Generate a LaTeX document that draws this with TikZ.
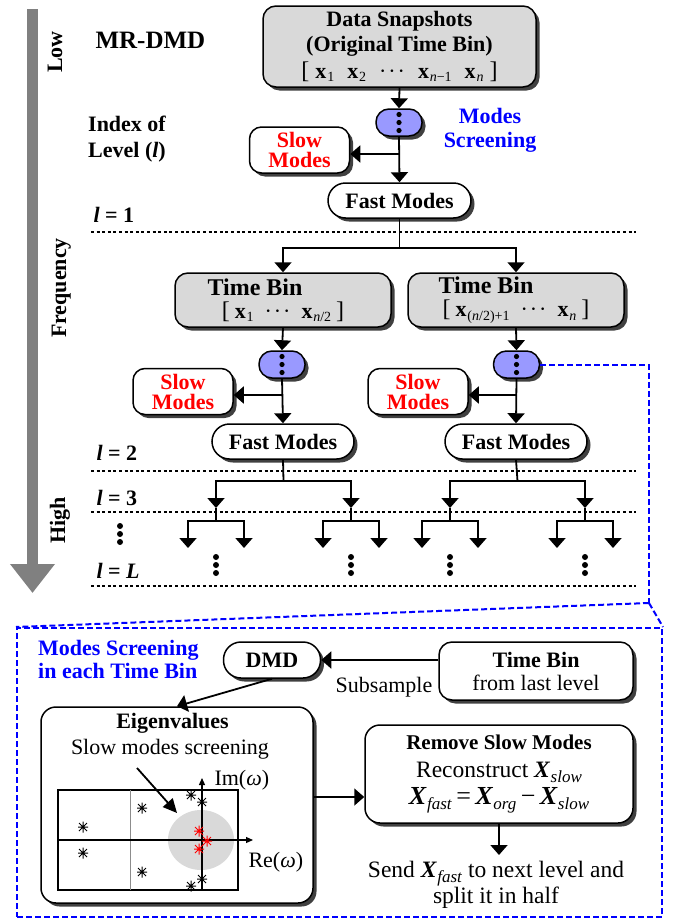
\documentclass[tikz,border=0pt]{standalone}
\usepackage{fontspec}
\setmainfont{Liberation Serif}
\usetikzlibrary{arrows.meta,shadows}
\definecolor{boxgray}{HTML}{D9D9D9}
\definecolor{scrblue}{HTML}{9999FF}
\definecolor{dmdblue}{HTML}{0000FF}
\definecolor{slowred}{HTML}{FF0000}
\definecolor{arrgray}{HTML}{808080}
\newcommand{\fz}[2]{\fontsize{#1pt}{#2pt}\selectfont}
\newcommand{\vx}[1]{\textbf{x}\kern0.8pt\raisebox{-3.5pt}{\fz{14}{14}#1}}
\newcommand{\cds}{·\kern2pt·\kern2pt·}
\newcommand{\BX}[1]{\textbf{\textit{X}}\kern0.3pt\raisebox{-5pt}{\fz{17}{17}\textit{#1}}}
\tikzset{
  box/.style={draw=black, line width=1.5pt, rounded corners=13pt, inner sep=0pt, align=center,
    drop shadow={shadow xshift=3.5pt, shadow yshift=-3.5pt, opacity=1, fill=black!75}},
  graybox/.style={box, fill=boxgray},
  whitebox/.style={box, fill=white},
  pillbox/.style={whitebox, rounded corners=17.5pt},
  scrbox/.style={box, fill=scrblue, minimum width=46pt, minimum height=27pt, rounded corners=13pt},
  slowbox/.style={whitebox, rounded corners=12pt, minimum width=100pt, minimum height=46pt,
    text=slowred, font=\fz{22}{20}\bfseries},
  fastbox/.style={pillbox, minimum width=143pt, minimum height=35pt, font=\fz{22}{26}\bfseries},
  binbox/.style={graybox, minimum width=216pt, minimum height=54pt, font=\fz{22}{23}},
  arr/.style={line width=1.8pt, -{Triangle[width=17pt,length=10pt]}},
  conn/.style={line width=1.8pt},
  levline/.style={line width=1.4pt, dash pattern=on 3pt off 2.6pt},
  bluedash/.style={draw=dmdblue, line width=2pt, dash pattern=on 6pt off 3pt},
  levtext/.style={anchor=base west, font=\fz{22}{26}\bfseries},
  sidetext/.style={rotate=90, anchor=base, font=\fz{22}{26}\bfseries},
  vdot/.style={fill=black},
  eigmark/.pic={\draw[line width=1pt] (-5,0)--(5,0) (0,-5.5)--(0,5.5) (-4,-4)--(4,4) (-4,4)--(4,-4);}
}
\begin{document}
\begin{tikzpicture}[x=1pt,y=-1pt]
\useasboundingbox (0,0) rectangle (673,918);

% frequency arrow
\draw[arrgray, line width=11pt, -{Triangle[width=43pt,length=29pt]}] (32.5,9) -- (32.5,593);
\node[sidetext] (low) at (62,52) {Low};
\node[sidetext] (freq) at (66,288) {Frequency};
\node[sidetext] (high) at (65,520) {High};

\node[anchor=base west, font=\fz{25}{30}\bfseries] (title) at (92,48) {MR-DMD};
\node[anchor=north west, inner sep=0pt, align=left, font=\fz{22}{26}\bfseries] (index) at (88,116) {Index of\\Level (\textit{l})};

% level separators
\foreach \yy in {232,471,512,586} \draw[levline] (91,\yy) -- (636,\yy);
\node[levtext] (l1) at (90,222) {\textit{l} = 1};
\node[levtext] (l2) at (93,460) {\textit{l} = 2};
\node[levtext] (l3) at (93,505) {\textit{l} = 3};
\node[levtext] (lL) at (93,578) {\textit{l} = \textit{L}};
\foreach \d in {-8,0,8} \fill[vdot] (120,534+\d) circle (3);

% level 1
\node[graybox, minimum width=273pt, minimum height=81pt, font=\fz{22}{25}] (data) at (399.5,46.5)
  {\textbf{Data Snapshots}\\\textbf{(Original Time Bin)}\\[2pt]
   {\fz{24}{25}[}\hspace{6pt}\vx{1}\hspace{13pt}\vx{2}\hspace{13pt}\cds\hspace{13pt}\vx{\textit{n}−1}\hspace{13pt}\vx{\textit{n}}\hspace{6pt}{\fz{24}{25}]}};
\node[scrbox] (scr0) at (399,122.5) {};
\foreach \d in {-8,0,8} \fill[vdot] (scr0.center) ++(0,\d) circle (2.6);
\node[anchor=north, inner sep=0pt, align=center, text=dmdblue, font=\fz{22}{24}\bfseries] (mstext) at (490,108) {Modes\\Screening};
\node[slowbox] (slow0) at (299.5,150) {Slow\\Modes};
\node[fastbox] (fast0) at (399.5,200.5) {Fast Modes};
\draw[arr] (data.south) -- (scr0.north);
\draw[arr] (scr0.south) -- (fast0.north);
\coordinate (j0) at (399,154);
\draw[arr] (j0) -- (j0 -| slow0.east);

% level 2
\coordinate (t0) at (399.5,248);
\node[binbox] (binL) at (283,300)
  {\makebox[0pt]{\hspace*{-56pt}\fz{24}{24}\bfseries Time Bin}\\[0pt]
   {\fz{24}{24}[}\hspace{5pt}\vx{1}\hspace{11pt}\cds\hspace{11pt}\vx{\textit{n}/2}\hspace{5pt}{\fz{24}{24}]}};
\node[binbox] (binR) at (516,300)
  {\makebox[0pt]{\hspace*{-60pt}\fz{24}{24}\bfseries Time Bin}\\[0pt]
   {\fz{24}{24}[}\hspace{5pt}\vx{(\textit{n}/2)+1}\hspace{11pt}\cds\hspace{11pt}\vx{\textit{n}}\hspace{5pt}{\fz{24}{24}]}};
\draw[conn] (fast0.south) -- (t0);
\draw[arr] (t0) -| (binL.north);
\draw[arr] (t0) -| (binR.north);

\node[scrbox] (scrL) at (282,364.5) {};
\node[scrbox] (scrR) at (516.5,364.5) {};
\foreach \s in {scrL,scrR} \foreach \d in {-8,0,8} \fill[vdot] (\s.center) ++(0,\d) circle (2.6);
\node[slowbox] (slowL) at (183,391.5) {Slow\\Modes};
\node[slowbox] (slowR) at (418,391.5) {Slow\\Modes};
\node[fastbox, minimum width=142pt] (fastL) at (283,441.5) {Fast Modes};
\node[fastbox, minimum width=142pt] (fastR) at (516,441.5) {Fast Modes};
\draw[arr] (binL.south) -- (scrL.north);
\draw[arr] (binR.south) -- (scrR.north);
\draw[arr] (scrL.south) -- (fastL.north);
\draw[arr] (scrR.south) -- (fastR.north);
\coordinate (jL) at (282,395);
\coordinate (jR) at (516.5,395);
\draw[arr] (jL) -- (jL -| slowL.east);
\draw[arr] (jR) -- (jR -| slowR.east);

% levels 3 .. L
\foreach \n/\cx in {L/283.5, R/517.5} {
  \coordinate (t\n) at (\cx,481);
  \draw[conn] (fast\n.south) -- (t\n);
  \foreach \m/\dx in {a/-67.5, b/67.5} {
    \coordinate (h\n\m) at (\cx+\dx,508);
    \coordinate (s\n\m) at (\cx+\dx,521);
    \draw[arr] (t\n) -| (h\n\m);
    \draw[conn] (h\n\m) -- (s\n\m);
    \foreach \k/\ex in {1/-28, 2/28} {
      \coordinate (e\n\m\k) at (\cx+\dx+\ex,548);
      \draw[arr] (s\n\m) -| (e\n\m\k);
    }
    \foreach \d in {-8,0,8} \fill[vdot] (\cx+\dx,565+\d) circle (3);
  }
}

% link to detail panel
\node[draw=dmdblue, line width=2pt, dash pattern=on 6pt off 3pt, minimum width=645pt, minimum height=289pt, inner sep=0pt] (panel) at (339.5,772.5) {};
\coordinate (bend) at (649,603);
\draw[bluedash] (scrR.east) -| (bend);
\draw[bluedash] (bend) -- (panel.north west);
\draw[bluedash] (bend) -- (panel.north east);

% detail panel
\node[anchor=north west, inner sep=0pt, align=left, text=dmdblue, font=\fz{22}{23}\bfseries] (ptitle) at (38,640) {Modes Screening\\in each Time Bin};
\node[pillbox, minimum width=97pt, minimum height=36pt, font=\fz{22}{26}\bfseries] (dmd) at (272,660) {DMD};
\node[whitebox, minimum width=194pt, minimum height=58pt, font=\fz{22}{23}] (tbl) at (536,671) {\textbf{Time Bin}\\from last level};
\draw[arr] (dmd.east -| tbl.west) -- (dmd.east);
\node[anchor=base, font=\fz{22}{26}] (subs) at (384,692) {Subsample};

\node[whitebox, rounded corners=15pt, minimum width=272pt, minimum height=196pt] (eig) at (177,805) {};
\draw[arr] (dmd.south) -- (eig.north);
\node[anchor=base, font=\fz{22}{26}\bfseries] (eigt) at (172.5,728) {Eigenvalues};
\node[anchor=base, font=\fz{22}{26}] (eigs) at (170,754) {Slow modes screening};
\fill[boxgray] (201,840) ellipse [x radius=33, y radius=30];
\draw[line width=1.2pt] (58,790) rectangle (238,890);
\draw[black!45, line width=0.8pt] (130,790) -- (130,890);
\draw[line width=1.2pt, -{Triangle[width=6pt,length=7pt]}] (58,840) -- (253,840);
\draw[line width=1.2pt, -{Triangle[width=6pt,length=7pt]}] (202,890) -- (202,778);
\node[anchor=base west, font=\fz{22}{26}] (im) at (211,785) {Im(\textit{ω})};
\node[anchor=base west, font=\fz{22}{26}] (re) at (245,867) {Re(\textit{ω})};
\foreach \px/\py in {83/827, 83/853, 142/808, 142/872, 191/795, 202/802, 202/879, 191/886}
  \pic at (\px,\py) {eigmark};
\foreach \px/\py in {199/831, 207/841, 199/849}
  \pic[color=slowred] at (\px,\py) {eigmark};
\coordinate (p1) at (137,768);
\coordinate (p2) at (177,813);
\draw[line width=1.8pt, -{Triangle[width=13pt,length=14pt]}] (p1) -- (p2);

\node[whitebox, rounded corners=15pt, minimum width=268pt, minimum height=98pt, font=\fz{21}{27}] (rem) at (499,774)
  {\textbf{Remove Slow Modes}\\[1pt]
   {\fz{23.5}{27}Reconstruct \BX{slow}}\\[0pt]
   {\fz{26}{27}\BX{fast}\,=\,\BX{org}\,−\,\BX{slow}}};
\coordinate (ey) at (0,797);
\draw[arr] (eig.east |- ey) -- (rem.west |- ey);
\coordinate (sendtip) at (499,855);
\draw[arr] (rem.south) -- (sendtip);
\node[anchor=north, inner sep=0pt, align=center, font=\fz{23.5}{26}] (send) at (496,861)
  {Send \BX{fast} to next level and\\split it in half};
\end{tikzpicture}
\end{document}
